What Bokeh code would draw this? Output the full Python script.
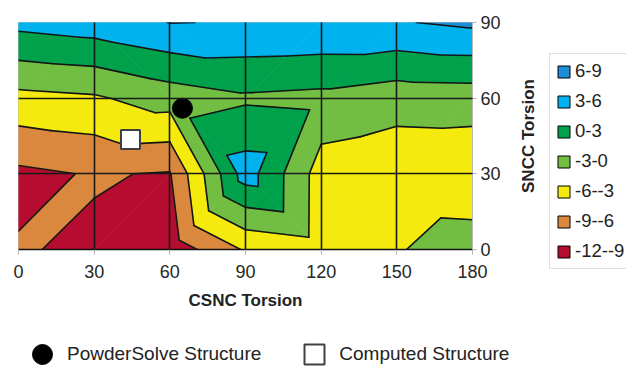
from bokeh.plotting import figure
from bokeh.layouts import row, column
from bokeh.models import Legend, LegendItem, FixedTicker, Label
from bokeh.embed import file_html
from bokeh.resources import INLINE

# ---- data -------------------------------------------------------------
csnc = [0, 30, 60, 90, 120, 150, 180]          # CSNC torsion (x)
sncc = [0, 30, 60, 90]                          # SNCC torsion (y)
energy_sncc0 = [-8.8, -9.44, -10.9, -5.66, -4.46, -3.22, -1.5]
energy_sncc30 = [-9.63, -8.79, -9.2, 4.5, -4.4, -5.09, -5.32]
energy_sncc60 = [-3.9, -3.38, -1.62, -0.45, -0.81, -1.76, -1.62]
energy_sncc90 = [3.9, 4.66, 6.05, 5.9, 5.75, 5.8, 6.58]
levels = [-12, -9, -6, -3, 0, 3, 6, 9]
band_labels = ["-12--9", "-9--6", "-6--3", "-3-0", "0-3", "3-6", "6-9"]
band_colors = ["#b50c2f", "#d9883e", "#f4ea0e", "#72be43", "#00a14b", "#00b2ee", "#1c8ed6"]
powdersolve_csnc, powdersolve_sncc = [65], [56]
computed_csnc, computed_sncc = [44.4], [43.6]

energy = [energy_sncc0, energy_sncc30, energy_sncc60, energy_sncc90]
font = "Liberation Sans"

# ---- triangulate the grid (diagonal joining the higher pair of corners) ----
triangles = []
for j in range(len(sncc) - 1):
    for i in range(len(csnc) - 1):
        bl = (csnc[i], sncc[j], energy[j][i])
        br = (csnc[i + 1], sncc[j], energy[j][i + 1])
        tl = (csnc[i], sncc[j + 1], energy[j + 1][i])
        tr = (csnc[i + 1], sncc[j + 1], energy[j + 1][i + 1])
        if bl[2] + tr[2] >= tl[2] + br[2]:
            triangles += [(bl, br, tr), (bl, tr, tl)]
        else:
            triangles += [(bl, br, tl), (br, tr, tl)]


def clip(poly, lev, keep_above):
    out = []
    n = len(poly)
    for k in range(n):
        a, b = poly[k], poly[(k + 1) % n]
        ina = a[2] >= lev if keep_above else a[2] <= lev
        inb = b[2] >= lev if keep_above else b[2] <= lev
        if ina:
            out.append(a)
        if ina != inb:
            t = (lev - a[2]) / (b[2] - a[2])
            out.append((a[0] + t * (b[0] - a[0]), a[1] + t * (b[1] - a[1]), lev))
    return out


# ---- main contour plot ----
p = figure(width=515, height=320, x_range=(0, 180), y_range=(0, 90),
           output_backend="svg", toolbar_location=None, y_axis_location="right",
           min_border_left=18, min_border_right=43, min_border_top=22,
           min_border_bottom=71)
p.background_fill_color = "white"
p.border_fill_color = "white"
p.outline_line_color = "#bdbdbd"
p.outline_line_width = 1

# filled bands
for b in range(len(band_labels)):
    lo, hi = levels[b], levels[b + 1]
    bxs, bys = [], []
    for tri in triangles:
        poly = clip(list(tri), lo, True)
        if len(poly) >= 3:
            poly = clip(poly, hi, False)
        if len(poly) >= 3:
            bxs.append([v[0] for v in poly])
            bys.append([v[1] for v in poly])
    if bxs:
        p.patches(bxs, bys, fill_color=band_colors[b], line_color=band_colors[b],
                  line_width=0.8)

# contour lines
lxs, lys = [], []
for lev in levels:
    for tri in triangles:
        pts = []
        for k in range(3):
            a, b = tri[k], tri[(k + 1) % 3]
            if (a[2] - lev) * (b[2] - lev) < 0:
                t = (lev - a[2]) / (b[2] - a[2])
                pts.append((a[0] + t * (b[0] - a[0]), a[1] + t * (b[1] - a[1])))
        if len(pts) == 2:
            lxs.append([pts[0][0], pts[1][0]])
            lys.append([pts[0][1], pts[1][1]])
p.multi_line(lxs, lys, line_color="#151515", line_width=1.6,
             line_cap="round", line_join="round")

# grid on top of the bands
p.xgrid.ticker = FixedTicker(ticks=csnc[1:-1])
p.ygrid.ticker = FixedTicker(ticks=sncc[1:-1])
for g in (p.xgrid, p.ygrid):
    g.grid_line_color = "#1a1a1a"
    g.grid_line_width = 1.6
    g.level = "overlay"

# structures
p.scatter(powdersolve_csnc, powdersolve_sncc, marker="circle", size=20,
          fill_color="black", line_color="black", level="overlay")
p.scatter(computed_csnc, computed_sncc, marker="square", size=19,
          fill_color="white", line_color="#404040", line_width=2,
          level="overlay")

# axes
p.xaxis.ticker = FixedTicker(ticks=csnc)
p.yaxis.ticker = FixedTicker(ticks=sncc)
for ax in (p.xaxis[0], p.yaxis[0]):
    ax.minor_tick_line_color = None
    ax.major_tick_in = 0
    ax.major_tick_line_color = "#b0b0b0"
    ax.major_label_text_font = font
    ax.major_label_text_font_size = "18px"
    ax.major_label_text_color = "#262626"
p.xaxis.major_tick_out = 5
p.xaxis.major_label_standoff = 10
p.xaxis.axis_line_color = "#111111"
p.xaxis.axis_line_width = 1.3
p.xaxis.axis_label = "CSNC Torsion"
p.xaxis.axis_label_text_font = font
p.xaxis.axis_label_text_font_style = "bold"
p.xaxis.axis_label_text_font_size = "17px"
p.xaxis.axis_label_text_color = "#222222"
p.xaxis.axis_label_standoff = 10
p.yaxis.major_tick_out = 4
p.yaxis.major_label_standoff = 4
p.yaxis.axis_line_color = "#b8b8b8"

# ---- right strip: y-axis title + band legend ----
pl = figure(width=111, height=320, x_range=(0, 1), y_range=(0, 1),
            output_backend="svg", toolbar_location=None,
            x_axis_location=None, y_axis_location=None, min_border=0)
pl.outline_line_color = None
pl.grid.visible = False
pl.add_layout(Label(x=13, y=184.5, x_units="screen", y_units="screen",
                    text="SNCC Torsion", angle=90, angle_units="deg",
                    text_align="center", text_baseline="middle",
                    text_font=font, text_font_style="bold",
                    text_font_size="17px", text_color="#222222"))
items = []
for b in reversed(range(len(band_labels))):
    r = pl.quad(left=[0], right=[1], bottom=[levels[b]], top=[levels[b + 1]],
                fill_color=band_colors[b], line_color="black", line_width=1,
                visible=False)
    items.append(LegendItem(label=band_labels[b], renderers=[r]))
pl.add_layout(Legend(items=items, location=(34, 51), glyph_width=15,
                     glyph_height=15, label_height=22, spacing=8, padding=6,
                     label_standoff=4, border_line_color="#c0c0c0",
                     border_line_width=1, background_fill_color="white",
                     label_text_font=font, label_text_font_size="18.5px",
                     label_text_color="#222222", margin=0,
                     inactive_fill_alpha=0))

# ---- structure legend (bottom strip) ----
pb = figure(width=626, height=46, x_range=(0, 1), y_range=(0, 1),
            output_backend="svg", toolbar_location=None,
            x_axis_location=None, y_axis_location=None, min_border=0)
pb.outline_line_color = None
pb.grid.visible = False
r_ps = pb.scatter(powdersolve_csnc, powdersolve_sncc, marker="circle", size=20,
                  fill_color="black", line_color="black", visible=False)
r_cs = pb.scatter(computed_csnc, computed_sncc, marker="square", size=19,
                  fill_color="white", line_color="#404040", line_width=2,
                  visible=False)
pb.add_layout(Legend(items=[LegendItem(label="PowderSolve Structure", renderers=[r_ps]),
                            LegendItem(label="Computed Structure", renderers=[r_cs])],
                     orientation="horizontal", location=(17, -13), glyph_width=50,
                     glyph_height=50, label_standoff=0, spacing=28, padding=0,
                     border_line_color=None, background_fill_alpha=0,
                     label_text_font=font, label_text_font_size="19px",
                     label_text_color="#222222", margin=0,
                     inactive_fill_alpha=0))

layout = column(row(p, column(pl)), pb)
open("out.html", "w").write(file_html(layout, INLINE))
